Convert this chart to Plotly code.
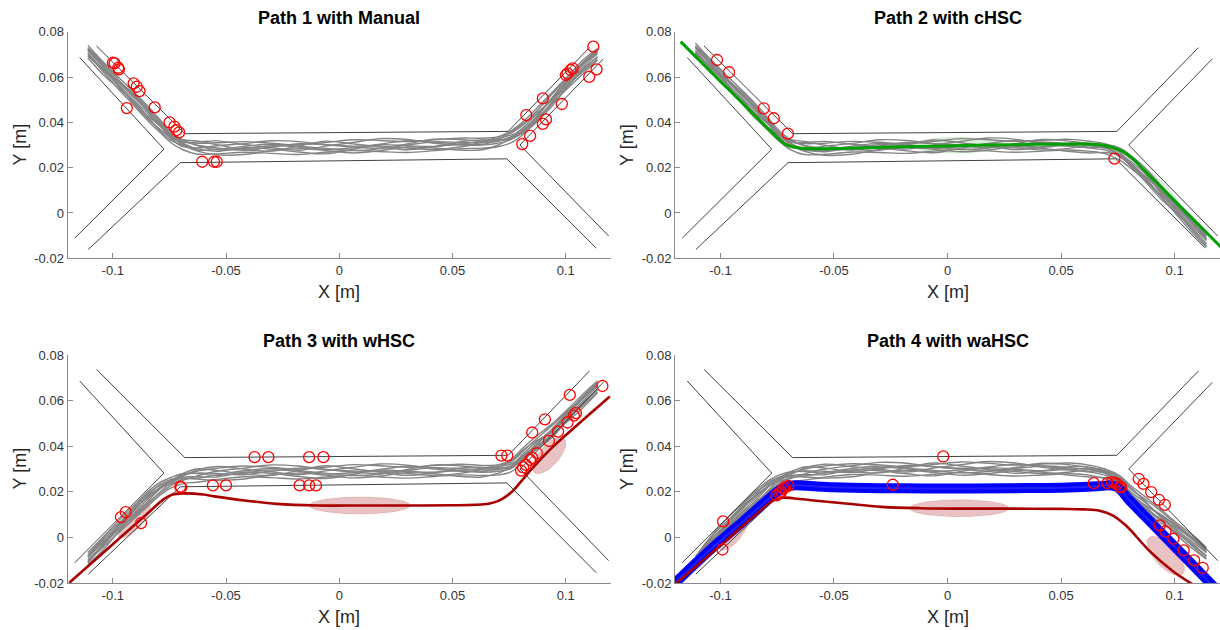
import numpy as np
import plotly.graph_objects as go

W, H = 1220, 630
FONT = "Liberation Sans, Arial, Helvetica, sans-serif"

# ---------------- data ----------------
TITLES = ["Path 1 with Manual", "Path 2 with cHSC", "Path 3 with wHSC", "Path 4 with waHSC"]
X_TICKS = [-0.1, -0.05, 0, 0.05, 0.1]
X_TICKTEXT = ["-0.1", "-0.05", "0", "0.05", "0.1"]
Y_TICKS = [-0.02, 0, 0.02, 0.04, 0.06, 0.08]
Y_TICKTEXT = ["-0.02", "0", "0.02", "0.04", "0.06", "0.08"]

# corridor outline (same in every panel)
CORR_A_X = [-0.1146, -0.0774, -0.1168]
CORR_A_Y = [0.0686, 0.0282, -0.0111]
CORR_B_X = [-0.1072, -0.0682, 0.0746, 0.1105]
CORR_B_Y = [0.0737, 0.0350, 0.0360, 0.0730]
CORR_C_X = [-0.1108, -0.0702, 0.0740, 0.1135]
CORR_C_Y = [-0.0161, 0.0222, 0.0239, -0.0155]
CORR_D_X = [0.1166, 0.0798, 0.1190]
CORR_D_Y = [0.0680, 0.0300, -0.0102]

# gray trial trajectories: common x samples, per-panel mean path + per-trial offsets (mm)
TRIAL_X = [-0.111, -0.104, -0.097, -0.090, -0.084, -0.079, -0.074, -0.069, -0.063, -0.054,
           -0.042, -0.030, -0.018, -0.006, 0.006, 0.018, 0.030, 0.042, 0.054, 0.063,
           0.070, 0.076, 0.081, 0.087, 0.094, 0.101, 0.108, 0.114]
MEAN_P1 = [0.0713, 0.0640, 0.0567, 0.0495, 0.0432, 0.0380, 0.0330, 0.0305, 0.0292, 0.0287,
           0.0286, 0.0287, 0.0289, 0.0291, 0.0293, 0.0296, 0.0299, 0.0302, 0.0305, 0.0310,
           0.0320, 0.0340, 0.0372, 0.0428, 0.0502, 0.0576, 0.0648, 0.0700]
MEAN_P2 = [0.0723, 0.0650, 0.0577, 0.0505, 0.0442, 0.0390, 0.0338, 0.0305, 0.0290, 0.0285,
           0.0287, 0.0291, 0.0294, 0.0296, 0.0298, 0.0299, 0.0300, 0.0300, 0.0299, 0.0296,
           0.0288, 0.0262, 0.0222, 0.0168, 0.0092, 0.0016, -0.0060, -0.0125]
MEAN_P3 = [-0.0092, -0.0020, 0.0050, 0.0115, 0.0172, 0.0212, 0.0240, 0.0262, 0.0274, 0.0280,
           0.0284, 0.0286, 0.0287, 0.0288, 0.0289, 0.0290, 0.0292, 0.0294, 0.0295, 0.0296,
           0.0302, 0.0318, 0.0362, 0.0412, 0.0468, 0.0535, 0.0602, 0.0660]
MEAN_P4 = [-0.0110, -0.0018, 0.0055, 0.0120, 0.0175, 0.0218, 0.0250, 0.0270, 0.0283, 0.0290,
           0.0294, 0.0297, 0.0299, 0.0300, 0.0301, 0.0301, 0.0301, 0.0301, 0.0300, 0.0296,
           0.0282, 0.0245, 0.0195, 0.0147, 0.0092, 0.0035, -0.0020, -0.0070]
TRIAL_DEV_MM = [
    [1.5, 2.0, 1.6, 1.2, 1.0, 0.8, 0.6, 0.9, 1.6, 2.3, 2.9, 2.1, 1.2, 2.0, 3.0, 2.4, 1.6, 2.1, 2.6, 2.0, 1.6, 1.3, 1.5, 2.0, 2.3, 2.1, 1.8, 1.5],
    [-1.2, -2.0, -2.5, -2.8, -3.0, -2.6, -2.2, -2.6, -3.2, -2.6, -1.8, -2.4, -3.1, -2.3, -1.6, -2.5, -3.2, -2.7, -2.1, -2.4, -2.8, -3.0, -2.7, -2.2, -2.0, -1.7, -1.4, -1.0],
    [0.4, 0.0, -0.5, -0.3, 0.2, 0.5, 1.0, 1.4, 0.8, 0.0, -0.9, 0.4, 1.7, 1.0, -0.2, -1.0, 0.1, 1.2, 0.6, 0.0, -0.4, -0.2, 0.3, 0.6, 0.2, -0.3, 0.0, 0.3],
    [2.6, 2.4, 2.8, 3.2, 3.4, 3.0, 2.4, 1.8, 0.6, -0.8, -0.2, 1.0, 0.2, -1.0, -0.5, 0.8, 2.0, 1.1, 0.0, 0.8, 1.5, 2.4, 2.9, 3.2, 3.0, 2.8, 3.0, 2.6],
    [-2.8, -3.2, -2.0, -1.0, -1.5, -1.8, -1.1, -0.6, -1.8, -3.0, -2.8, -1.2, -0.5, -1.5, -2.8, -2.1, -0.8, -1.5, -2.8, -3.1, -2.1, -1.0, -0.5, -1.0, -1.8, -2.5, -3.0, -2.6],
    [0.8, 1.2, 0.5, 0.8, 2.0, 2.2, 1.5, 0.8, 2.1, 3.1, 1.6, 0.2, -1.2, 0.4, 1.8, 3.2, 2.5, 0.6, -0.5, -1.0, -1.2, -1.5, -1.1, -0.5, 0.5, 1.0, 1.4, 1.0],
    [-0.6, -1.0, 0.5, 1.8, 1.5, 0.5, -0.4, -1.2, -0.5, 1.0, 2.0, 3.2, 2.6, 1.0, 0.2, 0.0, -1.2, -2.2, -1.3, 0.2, 0.8, 0.5, -1.0, -1.8, -1.2, 0.5, 1.0, 0.6],
    [-2.0, -1.2, -1.2, -2.0, -2.2, -1.2, 0.0, 0.2, -0.8, -1.5, 0.2, -0.5, -2.0, -3.0, -1.2, 0.5, -0.2, -0.8, 1.0, 1.2, 0.2, -0.6, -2.0, -2.8, -3.0, -1.5, -0.8, -1.4],
    [1.0, 0.5, -1.0, -1.8, -0.8, 0.2, 0.8, -0.2, -1.4, -0.6, 0.8, 1.6, 0.6, -0.6, -1.8, -1.2, 0.6, 2.4, 1.8, 0.8, -0.2, -1.2, -1.8, -0.6, 0.8, 1.6, 2.0, 2.2],
    [-1.8, -0.6, 1.2, 2.4, 2.6, 1.6, 1.0, 1.8, 2.6, 1.4, -0.6, -1.4, 0.6, 2.6, 1.2, -0.4, -2.0, -1.0, -0.2, -0.8, 0.4, 1.8, 2.0, 1.2, -0.5, -1.0, -2.0, -2.2],
]

# reference paths
GREEN_X = [-0.1175, -0.110, -0.100, -0.090, -0.080, -0.075, -0.0715, -0.068, -0.064, -0.058, -0.048,
           -0.035, -0.020, 0.000, 0.020, 0.040, 0.057, 0.064, 0.069, 0.073, 0.077, 0.081, 0.086,
           0.095, 0.105, 0.115, 0.1205]
GREEN_Y = [0.0756, 0.0681, 0.0581, 0.0482, 0.0382, 0.0333, 0.0303, 0.0291, 0.0286, 0.0284, 0.0285,
           0.0288, 0.0292, 0.0296, 0.0300, 0.0303, 0.0304, 0.0303, 0.0298, 0.0288, 0.0272, 0.0245, 0.0195,
           0.0104, 0.0004, -0.0096, -0.0151]
RED3_X = [-0.1192, -0.100, -0.085, -0.0773, -0.0736, -0.069, -0.060, -0.0552, -0.040, -0.0276, -0.010,
          0.010, 0.030, 0.050, 0.060, 0.066, 0.0703, 0.0740, 0.0773, 0.0805, 0.085, 0.0942, 0.105, 0.1195]
RED3_Y = [-0.0199, -0.0030, 0.0102, 0.0169, 0.0188, 0.0193, 0.0188, 0.0180, 0.0160, 0.0147, 0.0140,
          0.0140, 0.0140, 0.0141, 0.0143, 0.0148, 0.0160, 0.0182, 0.0211, 0.0248, 0.0300, 0.0396, 0.0492, 0.0618]
RED4_X = [-0.1193, -0.100, -0.085, -0.077, -0.0725, -0.068, -0.060, -0.046, -0.029, -0.012, 0.010,
          0.030, 0.050, 0.060, 0.067, 0.0727, 0.0786, 0.0888, 0.099, 0.1078]
RED4_Y = [-0.0200, -0.0035, 0.0095, 0.0160, 0.0174, 0.0172, 0.0163, 0.0150, 0.0134, 0.0128, 0.0126,
          0.0126, 0.0125, 0.0123, 0.0117, 0.0097, 0.0052, -0.0058, -0.0146, -0.0205]
BLUE_X = [-0.1205, -0.110, -0.100, -0.090, -0.080, -0.075, -0.0715, -0.068, -0.062, -0.050, -0.030,
          -0.010, 0.010, 0.030, 0.050, 0.062, 0.068, 0.072, 0.075, 0.080, 0.090, 0.100, 0.110, 0.1205]
BLUE_Y = [-0.0205, -0.0105, -0.0015, 0.0070, 0.0158, 0.0200, 0.0222, 0.0228, 0.0226, 0.0220, 0.0216,
          0.0215, 0.0215, 0.0216, 0.0218, 0.0222, 0.0226, 0.0228, 0.0220, 0.0164, 0.0062, -0.0040,
          -0.0142, -0.0250]

# red circle events
CIRC1_X = [-0.0999, -0.0992, -0.0976, -0.0973, -0.0908, -0.0894, -0.0882, -0.0938, -0.0815, -0.0749,
           -0.0728, -0.0719, -0.0707, -0.0605, -0.0553, -0.0541, 0.1122, 0.1136, 0.1104, 0.1031,
           0.1022, 0.1008, 0.1001, 0.0983, 0.0899, 0.0913, 0.0899, 0.0826, 0.0843, 0.0808]
CIRC1_Y = [0.0663, 0.0660, 0.0641, 0.0634, 0.0572, 0.0557, 0.0538, 0.0463, 0.0466, 0.0400,
           0.0381, 0.0366, 0.0356, 0.0226, 0.0226, 0.0226, 0.0734, 0.0634, 0.0601, 0.0638,
           0.0631, 0.0616, 0.0609, 0.0481, 0.0506, 0.0413, 0.0393, 0.0432, 0.0340, 0.0304]
CIRC2_X = [-0.1015, -0.0962, -0.0809, -0.0765, -0.0703, 0.0735]
CIRC2_Y = [0.0675, 0.0621, 0.0462, 0.0418, 0.0350, 0.0240]
CIRC3_X = [-0.0964, -0.0943, -0.0875, -0.0702, -0.0698, -0.0558, -0.0500, -0.0374, -0.0313, -0.0133,
           -0.0070, -0.0175, -0.0133, -0.0103, 0.0716, 0.0742, 0.0803, 0.0812, 0.0824, 0.0843,
           0.0852, 0.0852, 0.0873, 0.0908, 0.0926, 0.0966, 0.1008, 0.1018, 0.1036, 0.1045, 0.1162]
CIRC3_Y = [0.0089, 0.0111, 0.0063, 0.0223, 0.0219, 0.0228, 0.0228, 0.0352, 0.0352, 0.0352,
           0.0352, 0.0228, 0.0228, 0.0228, 0.0359, 0.0359, 0.0293, 0.0307, 0.0318, 0.0340,
           0.0349, 0.0460, 0.0369, 0.0518, 0.0423, 0.0464, 0.0504, 0.0625, 0.0534, 0.0545, 0.0664]
CIRC4_X = [-0.0988, -0.0991, -0.0753, -0.0741, -0.0732, -0.0723, -0.0715, -0.0701, -0.0241, -0.0019,
           0.0644, 0.0704, 0.0725, 0.0737, 0.0747, 0.0759, 0.0765, 0.0842, 0.0863, 0.0897,
           0.0931, 0.0957, 0.0935, 0.0960, 0.0995, 0.1040, 0.1086, 0.1124]
CIRC4_Y = [0.0070, -0.0053, 0.0184, 0.0194, 0.0201, 0.0213, 0.0220, 0.0226, 0.0231, 0.0355,
           0.0238, 0.0238, 0.0242, 0.0239, 0.0234, 0.0223, 0.0219, 0.0257, 0.0235, 0.0199,
           0.0165, 0.0143, 0.0053, 0.0026, -0.0006, -0.0057, -0.0101, -0.0134]

# uncertainty ellipses: centre (x, y), half-axis vector u, half-axis vector v
ELL_GREEN = [((-0.0864, 0.0462), (0.0069, -0.0074), (0.0016, 0.0015)),
             ((0.0038, 0.0299), (0.0190, 0.0), (0.0, 0.0035)),
             ((0.0961, 0.0091), (0.0073, -0.0089), (0.0016, 0.0013))]
ELL_RED3 = [((-0.0905, 0.0073), (0.0066, 0.0070), (0.0027, -0.0024)),
            ((0.0091, 0.0140), (0.0223, 0.0), (0.0, 0.0037)),
            ((0.0927, 0.0359), (0.0066, 0.0074), (0.0033, -0.0029))]
ELL_RED4 = [((-0.0944, 0.0022), (0.0059, 0.0074), (0.0031, -0.0025)),
            ((0.0052, 0.0128), (0.0219, 0.0), (0.0, 0.0037)),
            ((0.0961, -0.0081), (0.0075, -0.0079), (0.0035, 0.0033))]

# ---------------- layout geometry (pixels -> paper) ----------------
X_DOMAINS = [(67.5, 611.0), (675.0, 1220.0)]
Y_DOMAINS = [(31.7, 258.3), (355.0, 583.0)]

fig = go.Figure()

def ax_names(i):
    s = "" if i == 0 else str(i + 1)
    return "x" + s, "y" + s, "xaxis" + s, "yaxis" + s

def add_line(i, xs, ys, color, width, shape="linear", opacity=1.0):
    xa, ya, _, _ = ax_names(i)
    fig.add_trace(go.Scatter(x=xs, y=ys, mode="lines", xaxis=xa, yaxis=ya,
                             line=dict(color=color, width=width, shape=shape),
                             opacity=opacity, showlegend=False, hoverinfo="skip"))

def add_ellipse(i, ell, fill, line):
    xa, ya, _, _ = ax_names(i)
    t = np.linspace(0, 2 * np.pi, 80)
    for (c, u, v) in ell:
        ex = c[0] + u[0] * np.cos(t) + v[0] * np.sin(t)
        ey = c[1] + u[1] * np.cos(t) + v[1] * np.sin(t)
        fig.add_trace(go.Scatter(x=ex, y=ey, mode="lines", fill="toself", fillcolor=fill,
                                 line=dict(color=line, width=0.6), xaxis=xa, yaxis=ya,
                                 showlegend=False, hoverinfo="skip"))

means = [MEAN_P1, MEAN_P2, MEAN_P3, MEAN_P4]
circles = [(CIRC1_X, CIRC1_Y), (CIRC2_X, CIRC2_Y), (CIRC3_X, CIRC3_Y), (CIRC4_X, CIRC4_Y)]

for i in range(4):
    # ellipses (under the trials)
    if i == 1:
        add_ellipse(i, ELL_GREEN, "rgba(60,180,60,0.18)", "rgba(60,180,60,0.25)")
    if i == 2:
        add_ellipse(i, ELL_RED3, "rgba(175,40,40,0.28)", "rgba(175,40,40,0.30)")
    if i == 3:
        add_ellipse(i, ELL_RED4, "rgba(175,40,40,0.28)", "rgba(175,40,40,0.30)")
    # gray trials
    m = np.array(means[i])
    for dev in TRIAL_DEV_MM:
        add_line(i, TRIAL_X, m + np.array(dev) * 0.001, "#848484", 1.4, shape="spline")
    # corridor
    for cx, cy in [(CORR_A_X, CORR_A_Y), (CORR_B_X, CORR_B_Y), (CORR_C_X, CORR_C_Y), (CORR_D_X, CORR_D_Y)]:
        add_line(i, cx, cy, "#2b2b2b", 0.9)
    # reference / mean paths
    if i == 1:
        add_line(i, GREEN_X, GREEN_Y, "#00a000", 3, shape="spline")
    if i == 2:
        add_line(i, RED3_X, RED3_Y, "#a80000", 2.6, shape="spline")
    if i == 3:
        add_line(i, BLUE_X, BLUE_Y, "#0000ff", 10, shape="spline")
        add_line(i, BLUE_X, BLUE_Y, "#2020ff", 2, shape="spline")
        add_line(i, RED4_X, RED4_Y, "#a80000", 2.6, shape="spline")
    # events
    xa, ya, _, _ = ax_names(i)
    cxs, cys = circles[i]
    fig.add_trace(go.Scatter(x=cxs, y=cys, mode="markers", xaxis=xa, yaxis=ya,
                             marker=dict(symbol="circle-open", size=11, color="#ff0000",
                                         line=dict(width=1.3, color="#ff0000")),
                             showlegend=False, hoverinfo="skip"))

axis_common = dict(showgrid=False, zeroline=False, showline=True, linecolor="#8a8a8a", linewidth=1,
                   ticks="inside", ticklen=5, tickcolor="#8a8a8a", tickwidth=1,
                   tickfont=dict(family=FONT, size=13, color="#333333"), mirror=False,
                   automargin=False, fixedrange=True)

annotations = []
for i in range(4):
    col, row = i % 2, i // 2
    x0, x1 = X_DOMAINS[col]
    y0, y1 = Y_DOMAINS[row]
    _, _, xk, yk = ax_names(i)
    xa, ya, _, _ = ax_names(i)
    fig.layout[xk] = dict(axis_common, domain=[x0 / W, x1 / W], range=[-0.12, 0.12],
                          tickvals=X_TICKS, ticktext=X_TICKTEXT, anchor=ya)
    fig.layout[yk] = dict(axis_common, domain=[1 - y1 / H, 1 - y0 / H], range=[-0.02, 0.08],
                          tickvals=Y_TICKS, ticktext=Y_TICKTEXT, anchor=xa)
    xc = (x0 + x1) / 2
    annotations.append(dict(text="<b>" + TITLES[i] + "</b>", x=xc / W, y=1 - (y0 - 14) / H,
                            xref="paper", yref="paper", showarrow=False, xanchor="center", yanchor="middle",
                            font=dict(family=FONT, size=18, color="#000000")))
    annotations.append(dict(text="X [m]", x=xc / W, y=1 - (y1 + 34) / H, xref="paper", yref="paper",
                            showarrow=False, xanchor="center", yanchor="middle",
                            font=dict(family=FONT, size=18, color="#262626")))
    annotations.append(dict(text="Y [m]", x=(x0 - 48) / W, y=1 - ((y0 + y1) / 2) / H, xref="paper",
                            yref="paper", showarrow=False, xanchor="center", yanchor="middle", textangle=-90,
                            font=dict(family=FONT, size=18, color="#262626")))

fig.update_layout(width=W, height=H, margin=dict(l=0, r=0, t=0, b=0), paper_bgcolor="white",
                  plot_bgcolor="white", showlegend=False, annotations=annotations,
                  font=dict(family=FONT))

fig.write_html("out.html")
